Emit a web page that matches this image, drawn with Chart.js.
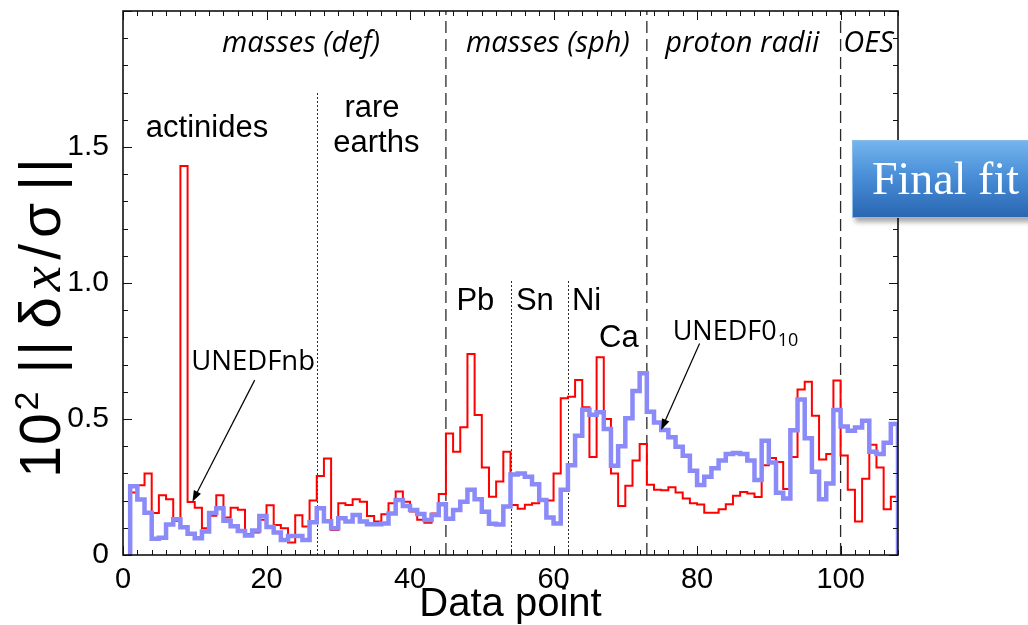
<!DOCTYPE html>
<html lang="en">
<head>
<meta charset="utf-8">
<title>Final fit</title>
<script src="https://cdn.jsdelivr.net/npm/chart.js@4.4.1/dist/chart.umd.min.js"></script>
<style>
    html, body { margin: 0; padding: 0; background: #fff; overflow: hidden; }
    #wrap { position: relative; width: 1028px; height: 625px; }
    #chart { position: absolute; left: 0; top: 0; }
    .final-fit {
        position: absolute; left: 852px; top: 140px; width: 200px; height: 78px;
        box-sizing: border-box; padding-left: 19px;
        background: linear-gradient(to bottom, #74b5ee 0%, #4a8fd8 45%, #2a66b2 100%);
        border: 1px solid #8dbbe8;
        box-shadow: 3px 4px 5px rgba(0, 0, 0, 0.35);
        color: #fff; font-family: 'Liberation Serif', 'DejaVu Serif', serif;
        font-size: 46px; line-height: 76px; white-space: nowrap;
    }
</style>
</head>
<body>
<div id="wrap">
    <canvas id="chart" width="1028" height="625"></canvas>
    <div class="final-fit">Final fit</div>
</div>
<script>
// UNEDFnb (red) residuals per data point
const unedfnb = [
    0.23, 0.256, 0.30, 0.154, 0.22, 0.205, 0.125, 1.43, 0.195, 0.174,
    0.098, 0.144, 0.22, 0.138, 0.174, 0.166, 0.077, 0.083, 0.13, 0.183,
    0.11, 0.098, 0.046, 0.146, 0.105, 0.2, 0.29, 0.355, 0.092, 0.19,
    0.184, 0.205, 0.196, 0.143, 0.123, 0.15, 0.19, 0.233, 0.196, 0.16,
    0.13, 0.119, 0.153, 0.224, 0.447, 0.38, 0.47, 0.739, 0.515, 0.322,
    0.214, 0.27, 0.38, 0.184, 0.17, 0.185, 0.19, 0.2, 0.2, 0.3,
    0.576, 0.582, 0.643, 0.543, 0.36, 0.727, 0.5, 0.3, 0.18, 0.255,
    0.347, 0.408, 0.258, 0.24, 0.238, 0.249, 0.23, 0.208, 0.19, 0.186,
    0.155, 0.155, 0.168, 0.187, 0.218, 0.232, 0.226, 0.213, 0.33, 0.357,
    0.342, 0.243, 0.36, 0.608, 0.637, 0.512, 0.351, 0.371, 0.642, 0.366,
    0.24, 0.123, 0.28, 0.405, 0.322, 0.168, 0.214
];

// UNEDF0_10 (blue) residuals per data point
const unedf0 = [
    0.253, 0.204, 0.155, 0.06, 0.063, 0.112, 0.131, 0.102, 0.078, 0.062,
    0.086, 0.154, 0.172, 0.126, 0.106, 0.088, 0.072, 0.09, 0.143, 0.103,
    0.083, 0.055, 0.07, 0.07, 0.055, 0.12, 0.172, 0.124, 0.098, 0.135,
    0.123, 0.147, 0.123, 0.113, 0.113, 0.116, 0.153, 0.202, 0.18, 0.165,
    0.151, 0.129, 0.147, 0.187, 0.133, 0.165, 0.196, 0.24, 0.205, 0.159,
    0.115, 0.112, 0.178, 0.296, 0.3, 0.288, 0.26, 0.202, 0.138, 0.116,
    0.24, 0.33, 0.438, 0.534, 0.516, 0.525, 0.463, 0.328, 0.4, 0.503,
    0.603, 0.668, 0.527, 0.487, 0.46, 0.433, 0.398, 0.365, 0.31, 0.257,
    0.288, 0.319, 0.347, 0.371, 0.375, 0.371, 0.347, 0.276, 0.42, 0.34,
    0.229, 0.208, 0.459, 0.572, 0.429, 0.306, 0.205, 0.263, 0.533, 0.472,
    0.457, 0.469, 0.494, 0.38, 0.371, 0.413, 0.482
];

const dataPoint = unedfnb.map((_, i) => i + 1);

const xTickValues = [0, 20, 40, 60, 80, 100];
const xTickLabels = ['0', '20', '40', '60', '80', '100'];
const yTickValues = [0, 0.5, 1.0, 1.5];
const yTickLabels = ['0', '0.5', '1.0', '1.5'];

// Group boundaries (dashed) and sub-group boundaries (dotted)
const sectionBounds = [45, 73, 100];
const subBounds = [27, 54, 62];
const subBoundTops = [1.70, 1.01, 1.01];

const sectionNames = ['masses (def)', 'masses (sph)', 'proton radii', 'OES'];
const sectionNameX = [24.8, 59.2, 86.3, 103.9];
const regionNames = ['actinides', 'rare', 'earths', 'Pb', 'Sn', 'Ni', 'Ca'];
const regionNameX = [11.7, 34.7, 35.3, 49.1, 57.4, 64.6, 69.1];
const regionNameY = [1.537, 1.61, 1.48, 0.90, 0.90, 0.90, 0.765];

// Build step outline: each value holds from its point to the next one
function stepPoints(values, closed) {
    const pts = values.map((v, i) => ({ x: dataPoint[i], y: v }));
    const last = values.length - 1;
    pts.push({ x: dataPoint[last] + 1, y: closed ? 0 : values[last] });
    if (closed) pts.unshift({ x: dataPoint[0], y: 0 });
    return pts;
}

function arrow(ctx, x1, y1, x2, y2) {
    const ang = Math.atan2(y2 - y1, x2 - x1);
    ctx.beginPath();
    ctx.moveTo(x1, y1);
    ctx.lineTo(x2 - 8 * Math.cos(ang), y2 - 8 * Math.sin(ang));
    ctx.stroke();
    ctx.beginPath();
    ctx.moveTo(x2, y2);
    ctx.lineTo(x2 - 11 * Math.cos(ang) + 4 * Math.sin(ang), y2 - 11 * Math.sin(ang) - 4 * Math.cos(ang));
    ctx.lineTo(x2 - 11 * Math.cos(ang) - 4 * Math.sin(ang), y2 - 11 * Math.sin(ang) + 4 * Math.cos(ang));
    ctx.closePath();
    ctx.fill();
}

// Dashed / dotted separators behind the curves
const separators = {
    id: 'separators',
    beforeDatasetsDraw(chart) {
        const { ctx, chartArea: a, scales: { x, y } } = chart;
        ctx.save();
        ctx.strokeStyle = '#2a2a2a';
        ctx.lineWidth = 1.3;
        ctx.setLineDash([12, 6]);
        sectionBounds.forEach(v => {
            const px = x.getPixelForValue(v);
            ctx.beginPath();
            ctx.moveTo(px, a.bottom);
            ctx.lineTo(px, a.top);
            ctx.stroke();
        });
        ctx.lineWidth = 1;
        ctx.setLineDash([2, 2]);
        subBounds.forEach((v, i) => {
            const px = Math.round(x.getPixelForValue(v)) + 0.5;
            ctx.beginPath();
            ctx.moveTo(px, a.bottom);
            ctx.lineTo(px, y.getPixelForValue(subBoundTops[i]));
            ctx.stroke();
        });
        ctx.restore();
    }
};

// Frame, inward ticks, labels and y title
const decorations = {
    id: 'decorations',
    afterDatasetsDraw(chart) {
        const { ctx, chartArea: a, scales: { x, y } } = chart;
        ctx.save();
        ctx.strokeStyle = '#111';
        ctx.lineWidth = 1;
        ctx.beginPath();
        for (let v = 0; v <= 108; v += 2) {
            const px = Math.round(x.getPixelForValue(v)) + 0.5;
            const len = v % 20 === 0 ? 9 : 5;
            ctx.moveTo(px, a.bottom); ctx.lineTo(px, a.bottom - len);
            ctx.moveTo(px, a.top); ctx.lineTo(px, a.top + len);
        }
        for (let i = 0; i <= 20; i++) {
            const py = Math.round(y.getPixelForValue(i / 10)) + 0.5;
            const len = i % 5 === 0 ? 9 : 5;
            ctx.moveTo(a.left, py); ctx.lineTo(a.left + len, py);
            ctx.moveTo(a.right, py); ctx.lineTo(a.right - len, py);
        }
        ctx.stroke();
        ctx.lineWidth = 1.6;
        ctx.strokeRect(a.left, a.top, a.width, a.height);

        ctx.fillStyle = '#000';
        ctx.textAlign = 'center';
        ctx.textBaseline = 'alphabetic';
        ctx.font = 'italic 29px "Open Sans"';
        sectionNames.forEach((t, i) => {
            ctx.fillText(t, x.getPixelForValue(sectionNameX[i]), y.getPixelForValue(1.849));
        });
        ctx.font = '31px "Liberation Sans"';
        regionNames.forEach((t, i) => {
            ctx.fillText(t, x.getPixelForValue(regionNameX[i]), y.getPixelForValue(regionNameY[i]));
        });

        // series annotations
        ctx.textAlign = 'left';
        ctx.font = '27.5px "Open Sans"';
        ctx.fillText('UNEDFnb', x.getPixelForValue(9.5), y.getPixelForValue(0.68));
        ctx.font = '27px "Open Sans"';
        const ux = x.getPixelForValue(76.6), uy = y.getPixelForValue(0.79);
        ctx.fillText('UNEDF0', ux, uy);
        const w0 = ctx.measureText('UNEDF0').width;
        ctx.font = '18px "Open Sans"';
        ctx.fillText('10', ux + w0 + 1, uy + 6);

        ctx.strokeStyle = '#000';
        ctx.lineWidth = 1.2;
        arrow(ctx, x.getPixelForValue(18.35), y.getPixelForValue(0.643), x.getPixelForValue(9.67), y.getPixelForValue(0.196));
        arrow(ctx, x.getPixelForValue(80.35), y.getPixelForValue(0.778), x.getPixelForValue(75.0), y.getPixelForValue(0.46));

        // y axis title: 10^2 ||dx/s||, drawn glyph by glyph
        const sans = '57px "Liberation Sans"';
        const glyphs = [
            { t: '1', f: sans, gap: 1 },
            { t: '0', f: sans, gap: 3 },
            { t: '2', f: '34px "Liberation Sans"', gap: 18, rise: 22 },
            { t: '|', f: sans, gap: 3 },
            { t: '|', f: sans, gap: 12 },
            { t: 'δ', f: sans, gap: 6 },
            { t: 'x', f: 'italic 57px "Liberation Serif"', gap: 6 },
            { t: '/', f: sans, gap: 6 },
            { t: 'σ', f: sans, gap: 12 },
            { t: '|', f: sans, gap: 3 },
            { t: '|', f: sans, gap: 0 }
        ];
        let total = 0;
        glyphs.forEach(g => { ctx.font = g.f; g.w = ctx.measureText(g.t).width; total += g.w + g.gap; });
        ctx.translate(60, 318);
        ctx.rotate(-Math.PI / 2);
        let cx = -total / 2;
        glyphs.forEach(g => {
            ctx.font = g.f;
            ctx.fillText(g.t, cx, -(g.rise || 0));
            cx += g.w + g.gap;
        });
        ctx.restore();
    }
};

new Chart(document.getElementById('chart'), {
    type: 'line',
    data: {
        datasets: [
            {
                label: 'UNEDF0_10',
                data: stepPoints(unedf0, true),
                borderColor: 'rgb(138, 138, 248)',
                borderWidth: 4.5,
                stepped: true,
                pointRadius: 0,
                borderJoinStyle: 'miter',
                fill: false
            },
            {
                label: 'UNEDFnb',
                data: stepPoints(unedfnb, false),
                borderColor: '#ff0000',
                borderWidth: 2,
                stepped: true,
                pointRadius: 0,
                borderJoinStyle: 'miter',
                fill: false
            }
        ]
    },
    options: {
        responsive: false,
        animation: false,
        layout: { padding: { top: 11, right: 130, left: 0, bottom: 0 } },
        plugins: { legend: { display: false }, tooltip: { enabled: false } },
        scales: {
            x: {
                type: 'linear', min: 0, max: 108,
                afterBuildTicks: s => { s.ticks = xTickValues.map(v => ({ value: v })); },
                afterFit: s => { s.height = 70; s.paddingLeft = 0; s.paddingRight = 0; },
                grid: { display: false, drawTicks: false },
                border: { display: false },
                ticks: {
                    callback: (v, i) => xTickLabels[i],
                    font: { family: 'Liberation Sans', size: 29 },
                    color: '#000', padding: 8, maxRotation: 0, autoSkip: false
                },
                title: {
                    display: true, text: 'Data point',
                    font: { family: 'Liberation Sans', size: 40, lineHeight: 1.0 },
                    color: '#000', padding: { top: 0, bottom: 0 }
                }
            },
            y: {
                type: 'linear', min: 0, max: 2,
                afterBuildTicks: s => { s.ticks = yTickValues.map(v => ({ value: v })); },
                afterFit: s => { s.width = 123; s.paddingTop = 0; s.paddingBottom = 0; },
                grid: { display: false, drawTicks: false },
                border: { display: false },
                ticks: {
                    callback: (v, i) => yTickLabels[i],
                    font: { family: 'Liberation Sans', size: 30 },
                    color: '#000', padding: 14
                }
            }
        }
    },
    plugins: [separators, decorations]
});
</script>
</body>
</html>
